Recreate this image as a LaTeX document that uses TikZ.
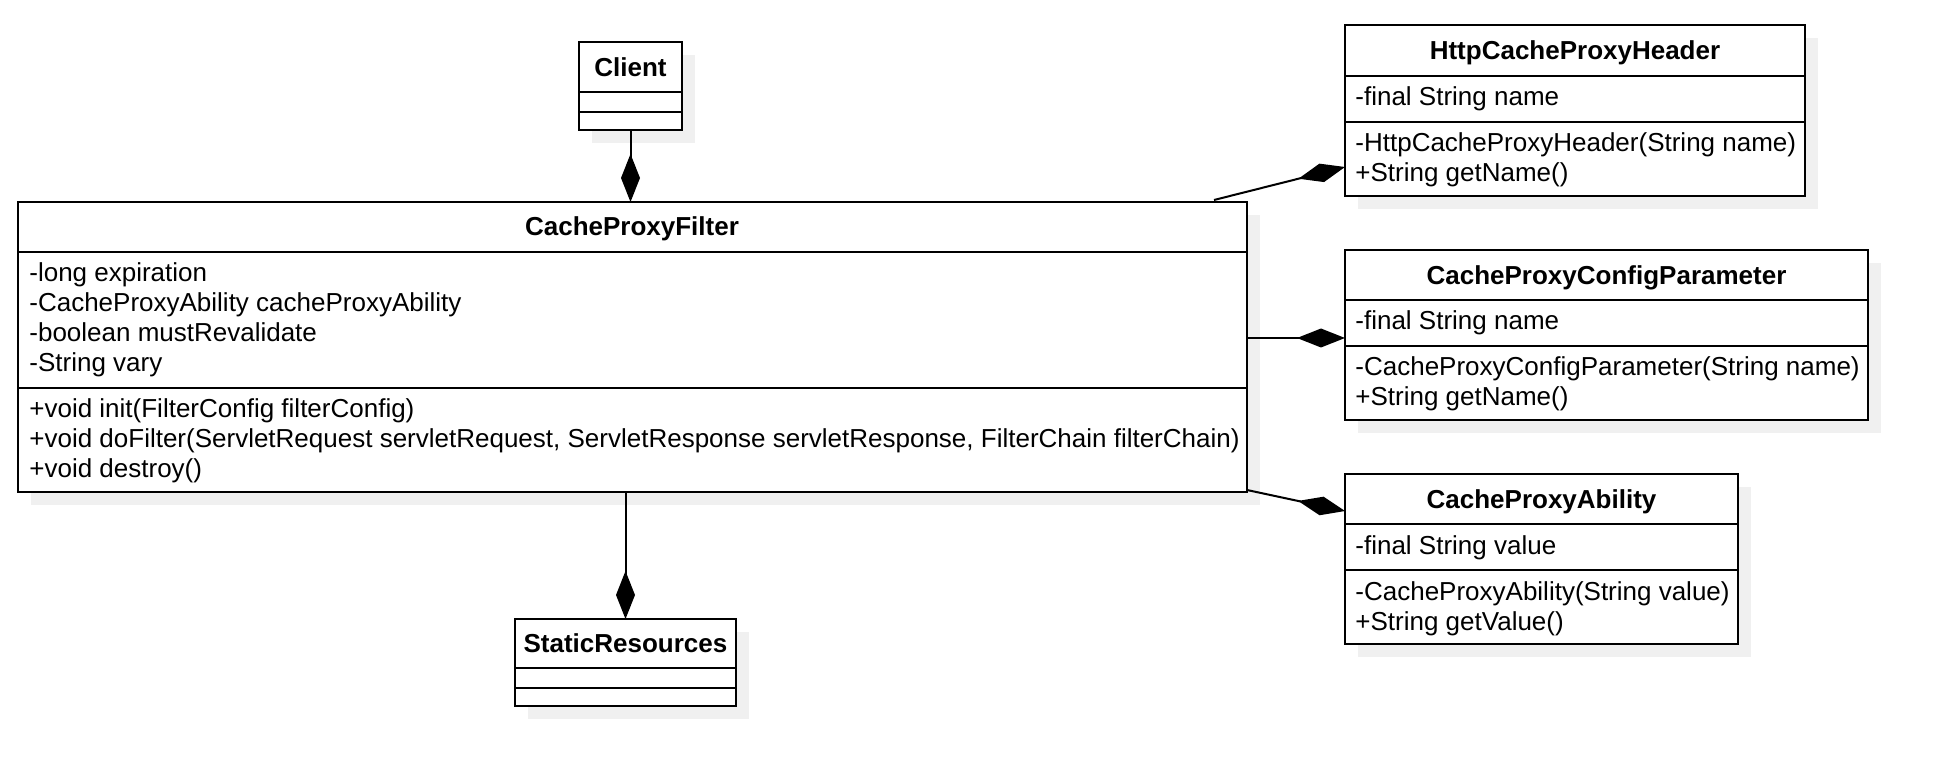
\documentclass[tikz,border=0pt]{standalone}
\usepackage{fontspec}
\setmainfont{Liberation Sans}
\usetikzlibrary{arrows.meta,fit,calc}
\definecolor{shadowc}{RGB}{240,240,240}
\tikzset{
  frame/.style={draw, line width=1pt, fill=white, inner sep=0pt, outer sep=0pt, rectangle},
  frameline/.style={line width=1pt},
  txt/.style={anchor=base west, inner sep=0pt, font=\fontsize{13pt}{15pt}\selectfont},
  ttl/.style={anchor=base, inner sep=0pt, font=\fontsize{13pt}{15pt}\selectfont\bfseries},
  comp/.style={draw, line width=1pt, -{Diamond[length=24pt,width=9.5pt]}},
}
\newcommand\umlframe[7]{%
  \fill[shadowc] (#2+13,#3+13) rectangle (#4+13,#5+13);
  \node[frame, fit={(#2,#3) (#4,#5)}] (#1) {};
  \draw[frameline] (#2,#6) -- (#4,#6);
  \draw[frameline] (#2,#7) -- (#4,#7);
}
\begin{document}
\begin{tikzpicture}[x=0.5pt,y=-0.5pt]
\useasboundingbox[fill=white] (0,0) rectangle (1950,780);

% Client
\umlframe{client}{579}{42}{682}{130}{92}{112}
\node[ttl] (client-t) at (630.5,77) {Client};

% CacheProxyFilter
\umlframe{filter}{18}{202}{1247}{492}{252}{388}
\node[ttl] (filter-t) at (632,236) {CacheProxyFilter};
\node[txt] (filter-a1) at (29,282) {-long expiration};
\node[txt] (filter-a2) at (29,312) {-CacheProxyAbility cacheProxyAbility};
\node[txt] (filter-a3) at (29,342) {-boolean mustRevalidate};
\node[txt] (filter-a4) at (29,372) {-String vary};
\node[txt] (filter-m1) at (29,418) {+void init(FilterConfig filterConfig)};
\node[txt] (filter-m2) at (29,448) {+void doFilter(ServletRequest servletRequest, ServletResponse servletResponse, FilterChain filterChain)};
\node[txt] (filter-m3) at (29,478) {+void destroy()};

% HttpCacheProxyHeader
\umlframe{http}{1345}{25}{1805}{196}{76}{122}
\node[ttl] (http-t) at (1575,60) {HttpCacheProxyHeader};
\node[txt] (http-a1) at (1355,106) {-final String name};
\node[txt] (http-m1) at (1355,152) {-HttpCacheProxyHeader(String name)};
\node[txt] (http-m2) at (1355,182) {+String getName()};

% CacheProxyConfigParameter
\umlframe{config}{1345}{250}{1868}{420}{300}{346}
\node[ttl] (config-t) at (1606.5,285) {CacheProxyConfigParameter};
\node[txt] (config-a1) at (1355,330) {-final String name};
\node[txt] (config-m1) at (1355,376) {-CacheProxyConfigParameter(String name)};
\node[txt] (config-m2) at (1355,406) {+String getName()};

% CacheProxyAbility
\umlframe{ability}{1345}{474}{1738}{644}{524}{570}
\node[ttl] (ability-t) at (1541.5,509) {CacheProxyAbility};
\node[txt] (ability-a1) at (1355,554) {-final String value};
\node[txt] (ability-m1) at (1355,600) {-CacheProxyAbility(String value)};
\node[txt] (ability-m2) at (1355,630) {+String getValue()};

% StaticResources
\umlframe{static}{515}{619}{736}{706}{668}{688}
\node[ttl] (static-t) at (625.5,653) {StaticResources};

% connectors
\draw[comp] (client.south) -- (client.south |- filter.north);
\draw[comp] ([xshift=-16.5pt,yshift=1pt]filter.north east) -- ([yshift=14.5pt]http.south west);
\draw[comp] (filter.east |- 0,338) -- (config.west |- 0,338);
\draw[comp] ([yshift=1pt]filter.south east) -- ([yshift=-18.5pt]ability.north west);
\draw[comp] (static.north |- filter.south) -- (static.north);
\end{tikzpicture}
\end{document}
